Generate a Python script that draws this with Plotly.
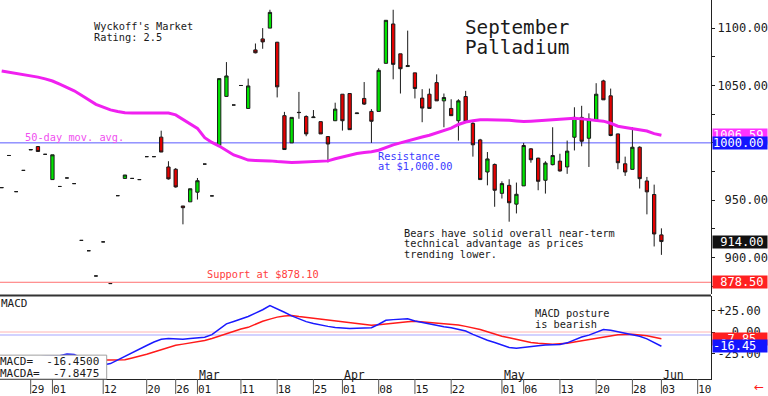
import plotly.graph_objects as go

# ---------------- data ----------------
jan_days = [23, 24, 25, 28, 29, 30, 31]
feb_days = [1, 4, 5, 6, 7, 8, 11, 12, 13, 14, 15, 18, 19, 20, 21, 22, 25, 26, 27, 28]
mar_days = [1, 4, 5, 6, 7, 8, 11, 12, 13, 14, 15, 18, 19, 20, 21, 22, 25, 26, 27, 28]
apr_days = [1, 2, 3, 4, 5, 8, 9, 10, 11, 12, 15, 16, 17, 18, 19, 22, 23, 24, 25, 26, 29, 30]
may_days = [1, 2, 3, 6, 7, 8, 9, 10, 13, 14, 15, 16, 17, 20, 21, 22, 23, 24, 28, 29, 30, 31]
jun_days = [3]
future_jun_days = [4, 5, 6, 7, 10, 11, 12]

session_dates = [f"2019-{m:02d}-{d:02d}" for m, days in
                 ((1, jan_days), (2, feb_days), (3, mar_days), (4, apr_days), (5, may_days), (6, jun_days))
                 for d in days]
axis_dates = session_dates + [f"2019-06-{d:02d}" for d in future_jun_days]

opens = [961, 989, 957.5, 976, 993.8, 996.8, 990, 968, 962, 969.4,
         964.5, 915, 906, 884, 913.7, 877.4, 954, 969, 969, 968,
         988, 988, 1005, 979, 977, 945, 948.6, 957, 981.5, 953.8,
         997.7, 1040.5, 1033, 1050, 1030, 1081, 1090.6, 1100, 1087.7, 1023.7,
         1000, 1026.6, 1023, 1022, 1018.5, 1005.5, 1019.3, 1042.4, 1043, 1025.5,
         1038.7, 1027.4, 1027.4, 1069.3, 1103.6, 1077.6, 1066.5, 1061, 1039, 1042.4,
         1052.5, 1036.6, 1030, 1019.3, 1040.4, 1017, 1002.6, 974.6, 981.2, 956,
         963, 946.6, 962.5, 994.8, 986.7, 967.4, 981, 984.1, 979, 1004.9,
         1022.2, 1004, 1019.3, 1054, 1041, 1007.8, 981.8, 976.9, 996.2, 966.8,
         955, 919.8]
highs = [961, 989, 957.5, 976, 994.2, 996.8, 990, 989.6, 962, 969.4,
         964.5, 915, 906, 884, 913.7, 877.4, 954, 972, 969, 968,
         988, 988, 1010.6, 984, 978, 945, 960, 969.4, 981.5, 953.8,
         1056, 1070.4, 1033, 1050, 1056, 1086.6, 1100, 1116, 1088, 1027,
         1022.2, 1044.4, 1024, 1028.6, 1018.5, 1005.5, 1035, 1042.4, 1043, 1026,
         1053, 1029.4, 1065, 1106.8, 1116, 1077.6, 1097.8, 1061, 1046.8, 1047.3,
         1059.7, 1043, 1038, 1038, 1045.3, 1018, 1003.5, 992, 982, 966.5,
         968.3, 965.4, 1000, 995.4, 987, 984, 1013.6, 990.5, 1002, 1031,
         1032.3, 1025.7, 1052, 1055, 1047.3, 1008, 988, 1013.6, 997, 970.3,
         963.6, 925.5]
lows = [961, 989, 957.5, 976, 993.8, 992.5, 990, 968, 962, 969.4,
        964.5, 915, 906, 884, 913.7, 877.4, 954, 969, 969, 968,
        988, 988, 992, 968, 961, 929, 948.6, 950.6, 981.5, 953.8,
        997.7, 1040, 1033, 1050, 1030, 1078, 1082, 1100, 1039.6, 994,
        1000, 1021, 1005.8, 1022, 1007.8, 983, 1019, 1010.7, 1011.5, 1025.5,
        1033, 1000, 1027.4, 1069.3, 1055.4, 1043, 1066.5, 1038.7, 1018, 1030,
        1036.6, 1013.6, 1023.7, 1002, 1018.5, 988, 968, 963, 944.3, 951.5,
        931.3, 938.5, 962.5, 982.7, 958.7, 955.8, 980.4, 975, 973, 993.4,
        997, 979, 1019.3, 1037.5, 1005.8, 977, 971.2, 976.9, 960.2, 937.7,
        909.7, 902.4]
closes = [961, 989, 957.5, 976, 994.2, 992.5, 990, 989.6, 962, 969.4,
          964.5, 915, 906, 884, 913.7, 877.4, 954, 972, 969, 968,
          988, 988, 992, 968.6, 961.6, 943.5, 960, 967, 981.5, 953.8,
          1056, 1058.3, 1033, 1050, 1049.6, 1078.5, 1088, 1113.7, 1048.8, 994.2,
          1022.2, 1026.4, 1007.8, 1022.5, 1007.8, 999, 1029.4, 1019.3, 1011.5, 1026,
          1033.8, 1018.8, 1063.2, 1106.8, 1068.4, 1064.6, 1067.3, 1047.4, 1030.3, 1030,
          1036.6, 1039.5, 1023.7, 1036.6, 1018.5, 998.3, 968, 986, 958.7, 964.5,
          947.8, 955.2, 997.7, 985.3, 966.5, 982.4, 989, 975.5, 992.8, 1022.2,
          1001.4, 1020.8, 1042.4, 1037.5, 1006.4, 982.7, 974.6, 996.2, 968.8, 957.3,
          920.6, 914.0]

ma50 = [1062.7, 1061.7, 1060.6, 1059.6, 1058.6, 1057.3, 1055.8, 1053.9, 1051.1, 1048.4,
        1045.4, 1041.5, 1037.6, 1033.6, 1031.1, 1028.7, 1027.3, 1026.2, 1026.0, 1026.0,
        1026.0, 1026.0, 1026.0, 1026.0, 1024.4, 1020.5, 1016.8, 1012.6, 1004.5, 1000.4,
        997.2, 993.1, 989.5, 987.3, 985.0, 984.7, 984.7, 984.3, 983.7, 983.1,
        982.8, 983.1, 983.4, 983.6, 983.9, 984.3, 986.1, 987.7, 989.3, 990.8,
        991.7, 992.3, 993.6, 996.1, 998.2, 1000.0, 1001.9, 1003.6, 1005.1, 1006.6,
        1008.6, 1010.7, 1012.8, 1016.0, 1018.2, 1019.3, 1020.2, 1020.2, 1020.2, 1020.0,
        1019.6, 1019.1, 1018.6, 1018.9, 1019.3, 1019.8, 1020.3, 1020.8, 1021.4, 1021.5,
        1020.9, 1020.4, 1019.7, 1018.9, 1017.1, 1014.5, 1013.4, 1012.2, 1011.3, 1010.3,
        1008.0, 1006.59]

macd = [-30, -30, -30, -29, -29, -29, -28, -28, -27.5, -25.5,
        -26, -30, -34, -37, -38, -36.5, -32.5, -28.3, -24, -19.7,
        -15.6, -11.5, -8.3, -7.6, -7.6, -8.4, -7.5, -6.7, -6.1, -3,
        3, 9.4, 12.2, 15, 17.9, 21.8, 25.7, 30.6, 27, 22.8,
        18.7, 15, 12, 9.8, 7.9, 6.5, 5.3, 4.7, 4.1, 4.4,
        4.6, 4.9, 9, 13.6, 14.3, 15, 15.3, 12.8, 11, 9.1,
        7.3, 6, 4.9, 3.3, 1.1, -2.7, -6.5, -9.5, -12.2, -14.9,
        -17.8, -18.9, -17.6, -16.5, -15.8, -15.1, -14.6, -14.3, -12.5, -8.9,
        -5.8, -3.6, 0, 2.8, 1.9, 0, -1.9, -3.4, -5, -7.9,
        -12.4, -16.45]
macda = [-28, -28.5, -29, -29, -29.5, -29.5, -30, -30, -30, -30.5,
         -31, -31.5, -32, -32.3, -32.3, -32.4, -32.4, -32, -30, -28,
         -25.8, -23, -20.3, -17.4, -15.3, -14, -12.6, -11.3, -9.9, -7.6,
         -4.7, -1.5, 1.5, 3.5, 5.4, 9, 12.5, 14.9, 17.2, 18.5,
         19.2, 18, 17, 15.8, 14.7, 13.8, 12.6, 11.5, 10.4, 9.3,
         8.5, 7.9, 8.3, 9.3, 10.2, 11, 11.8, 12.4, 11.8, 11.2,
         10.5, 9.7, 9, 8.2, 6.5, 4.8, 2.8, 0.2, -2.5, -4.9,
         -6.6, -8.6, -10.4, -12.1, -13.1, -13.9, -14, -13.6, -13.1, -11.5,
         -10.1, -8.5, -6.9, -5.5, -4, -3.3, -2.9, -2.7, -3.4, -4.3,
         -6.1, -7.8475]

resistance_level = 1000.0
support_level = 878.5
price_ticks = [900, 950, 1000, 1050, 1100]
macd_ticks = [25, 0, -25]
tick_dates = ["2019-01-29", "2019-02-01", "2019-02-12", "2019-02-20", "2019-02-26",
              "2019-03-01", "2019-03-11", "2019-03-18", "2019-03-25", "2019-04-01",
              "2019-04-08", "2019-04-15", "2019-04-22", "2019-05-01", "2019-05-06",
              "2019-05-13", "2019-05-20", "2019-05-28", "2019-06-03", "2019-06-10"]
month_labels = ["Mar", "Apr", "May", "Jun"]
month_dates = ["2019-03-01", "2019-04-01", "2019-05-01", "2019-06-03"]

# ---------------- layout helpers ----------------
W, H = 768, 396
ML, MR, MT, MB = 0, 55, 0, 15
PW, PH = W - ML - MR, H - MT - MB
MONO = "DejaVu Sans Mono"
NB = "\u00a0"


def px(x):
    return (x - ML) / PW


def py(y):
    return (H - MB - y) / PH


def pad(s, n):
    return NB * (n - len(s)) + s


fig = go.Figure()

fig.add_trace(go.Candlestick(
    x=session_dates, open=opens, high=highs, low=lows, close=closes,
    xaxis="x", yaxis="y", whiskerwidth=0, hoverinfo="skip", showlegend=False,
    increasing=dict(line=dict(color="#1a1a1a", width=1), fillcolor="#00e400"),
    decreasing=dict(line=dict(color="#1a1a1a", width=1), fillcolor="#e40000"),
))
fig.add_trace(go.Scatter(x=session_dates, y=ma50, mode="lines", xaxis="x", yaxis="y",
                         line=dict(color="#f020f0", width=3), hoverinfo="skip", showlegend=False))
fig.add_trace(go.Scatter(x=session_dates, y=macda, mode="lines", xaxis="x", yaxis="y2",
                         line=dict(color="#ff1a1a", width=1.5), hoverinfo="skip", showlegend=False))
fig.add_trace(go.Scatter(x=session_dates, y=macd, mode="lines", xaxis="x", yaxis="y2",
                         line=dict(color="#1a1aff", width=1.5), hoverinfo="skip", showlegend=False))

shapes = [
    dict(type="line", xref="paper", x0=0, x1=1, yref="y", y0=resistance_level, y1=resistance_level,
         line=dict(color="#5a5aff", width=1), layer="below"),
    dict(type="line", xref="paper", x0=0, x1=1, yref="y", y0=support_level, y1=support_level,
         line=dict(color="#ff7070", width=1), layer="below"),
    dict(type="line", xref="paper", x0=0, x1=1, yref="y2", y0=0, y1=0,
         line=dict(color="#ffb4b4", width=1), layer="below"),
    dict(type="line", xref="paper", x0=0, x1=1, yref="y2", y0=-3.5, y1=-3.5,
         line=dict(color="#d2d2ff", width=2), layer="below"),
    dict(type="line", xref="paper", x0=0, x1=1, yref="paper", y0=py(297), y1=py(297),
         line=dict(color="#333333", width=2)),
    dict(type="rect", xref="paper", x0=px(-2), x1=px(107), yref="paper", y0=py(381), y1=py(357),
         line=dict(color="#a0a0a0", width=1), fillcolor="white", layer="above"),
]
for d in tick_dates:
    i = axis_dates.index(d)
    shapes.append(dict(type="line", xref="x", x0=i, x1=i, yref="paper", y0=0, y1=py(396),
                       line=dict(color="#555555", width=1)))

annotations = []


def txt(s, x, y, size=10.3, color="#1a1a1a"):
    annotations.append(dict(text=s, xref="paper", yref="paper", x=px(x), y=py(y),
                            xanchor="left", yanchor="middle", showarrow=False,
                            font=dict(family=MONO, size=size, color=color)))


txt("Wyckoff's Market", 92, 26.5)
txt("Rating: 2.5", 92, 37)
txt("September", 464, 28, size=19.3)
txt("Palladium", 464, 48, size=19.3)
txt("50-day mov. avg.", 23, 137.5, color="#f050f0")
txt("Resistance", 377, 156.7, color="#3a3aff")
txt("at $1,000.00", 377, 167, color="#3a3aff")
txt("Bears have solid overall near-term", 403, 234)
txt("technical advantage as prices", 403, 244.5)
txt("trending lower.", 403, 255)
txt("Support at $878.10", 206, 275, color="#ff4040")
txt("MACD", -1, 305, size=11)
txt("MACD posture", 534, 315)
txt("is bearish", 534, 325.5)
txt(f"MACD={NB}{NB}{macd[-1]:.4f}", -2, 363, size=11)
txt(f"MACDA={NB}{NB}{macda[-1]:.4f}", -2, 375, size=11)

for lab, d in zip(month_labels, month_dates):
    annotations.append(dict(text=lab, xref="x", yref="paper", x=axis_dates.index(d), y=py(376.5),
                            xanchor="left", yanchor="middle", xshift=0, showarrow=False,
                            font=dict(family=MONO, size=11.5, color="#1a1a1a")))


def side_label(text, yref, yval, bg, n):
    annotations.append(dict(text=pad(text, n), xref="paper", x=1, xanchor="left", xshift=1,
                            yref=yref, y=yval, yanchor="middle", showarrow=False,
                            width=54, height=12, align="left", bgcolor=bg, borderpad=0,
                            font=dict(family=MONO, size=12, color="white")))


side_label(f"{ma50[-1]:.2f}", "y", ma50[-1], "#ff33ff", 7)
side_label(f"{resistance_level:.2f}", "y", resistance_level, "#1414ff", 7)
side_label(f"{closes[-1]:.2f}", "y", closes[-1], "#111111", 7)
side_label(f"{support_level:.2f}", "y", support_level, "#ff2020", 7)
side_label(f"{macda[-1]:.2f}", "y2", macda[-1], "#ff2020", 6)
side_label(f"{macd[-1]:.2f}", "y2", macd[-1], "#1414ff", 6)

annotations.append(dict(text="\u2190", xref="paper", yref="paper", x=px(761), y=py(389),
                        xanchor="center", yanchor="middle", showarrow=False,
                        font=dict(family="DejaVu Sans", size=12, color="#ff1a1a")))

# price range/pixel mapping
p_top = 1124.5
p_bot = 867.9
m_top = 41.1
m_bot = -54.3

fig.update_layout(
    width=W, height=H, margin=dict(l=ML, r=MR, t=MT, b=MB, pad=0),
    paper_bgcolor="white", plot_bgcolor="white", showlegend=False,
    font=dict(family=MONO, size=11, color="#1a1a1a"),
    boxgap=0.35,
    xaxis=dict(type="category", categoryorder="array", categoryarray=axis_dates,
               range=[-0.234, 97.84], anchor="y2", domain=[0, 1],
               showgrid=False, zeroline=False, showline=True, linecolor="#222", linewidth=1,
               ticks="", tickvals=tick_dates, ticktext=[d[8:10] for d in tick_dates],
               ticklabelposition="outside right", tickfont=dict(family=MONO, size=11, color="#1a1a1a"),
               rangeslider=dict(visible=False), fixedrange=True),
    yaxis=dict(domain=[py(296), 1], range=[p_bot, p_top], side="right", anchor="x",
               showgrid=False, zeroline=False, showline=True, linecolor="#222", linewidth=1,
               ticks="outside", ticklen=3, tickcolor="#222",
               tickvals=price_ticks, ticktext=[pad(f"{v:.2f}", 7) for v in price_ticks],
               minor=dict(ticks="outside", ticklen=3, tickcolor="#222",
                          tickvals=[v + 25 for v in price_ticks] + [price_ticks[0] - 25]),
               tickfont=dict(family=MONO, size=12, color="#1a1a1a"), fixedrange=True),
    yaxis2=dict(domain=[0, py(298)], range=[m_bot, m_top], side="right", anchor="x",
                showgrid=False, zeroline=False, showline=True, linecolor="#222", linewidth=1,
                ticks="outside", ticklen=3, tickcolor="#222",
                tickvals=macd_ticks,
                ticktext=[pad(("+" if v > 0 else "") + f"{v:.2f}", 6) for v in macd_ticks],
                tickfont=dict(family=MONO, size=12, color="#1a1a1a"), fixedrange=True),
    shapes=shapes, annotations=annotations,
)

fig.write_html("out.html", config={"displayModeBar": False},
               post_script="document.body.style.margin='0';document.body.style.overflow='hidden';")
